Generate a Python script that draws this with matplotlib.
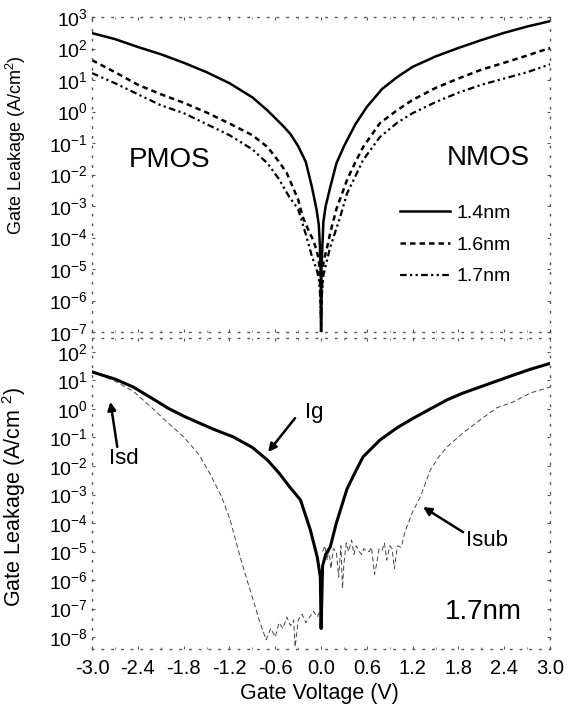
import numpy as np
import matplotlib
matplotlib.use("Agg")
import matplotlib.pyplot as plt
from matplotlib.ticker import FixedLocator, FuncFormatter, LogLocator, NullFormatter

plt.rcParams['font.family'] = ['Liberation Sans', 'DejaVu Sans']
plt.rcParams['mathtext.default'] = 'regular'

# ---------------- data (log10 of A/cm^2) ----------------
v14 = [-3.0, -2.7, -2.4, -2.1, -1.8, -1.5, -1.2, -0.9, -0.7, -0.5, -0.4, -0.3, -0.2, -0.12, -0.06,
       -0.03, -0.015, -0.005, 0.0, 0.005, 0.015, 0.03, 0.06, 0.12, 0.2, 0.3, 0.45, 0.6, 0.8, 1.0,
       1.2, 1.5, 1.8, 2.1, 2.4, 2.7, 3.0]
l14 = [2.49, 2.3, 2.05, 1.82, 1.55, 1.25, 0.9, 0.45, 0.03, -0.45, -0.72, -1.1, -1.6, -2.4, -3.1,
       -3.6, -4.3, -5.2, -7.0, -5.0, -4.4, -3.5, -3.0, -2.4, -1.65, -1.1, -0.4, 0.15, 0.72, 1.1,
       1.42, 1.75, 2.02, 2.27, 2.5, 2.7, 2.87]

v16 = [-3.0, -2.7, -2.4, -2.1, -1.8, -1.5, -1.2, -0.9, -0.7, -0.55, -0.45, -0.37, -0.3, -0.24,
       -0.16, -0.1, -0.06, -0.03, -0.015, 0.0, 0.015, 0.03, 0.06, 0.08, 0.12, 0.2, 0.34, 0.45,
       0.55, 0.77, 1.0, 1.2, 1.5, 1.8, 2.1, 2.4, 2.7, 3.0]
l16 = [1.63, 1.25, 0.85, 0.55, 0.28, -0.03, -0.38, -0.75, -1.13, -1.6, -1.95, -2.4, -2.8, -3.35,
       -3.8, -4.1, -4.4, -4.7, -5.3, -6.5, -5.4, -4.8, -4.5, -4.3, -3.85, -3.1, -2.17, -1.6,
       -1.13, -0.37, 0.05, 0.37, 0.75, 1.05, 1.33, 1.55, 1.78, 2.02]

v17 = [-3.0, -2.7, -2.4, -2.1, -1.8, -1.5, -1.2, -0.9, -0.7, -0.55, -0.42, -0.3, -0.2, -0.12,
       -0.06, -0.03, -0.01, 0.0, 0.01, 0.03, 0.06, 0.12, 0.25, 0.34, 0.45, 0.55, 0.77, 1.0, 1.2,
       1.5, 1.8, 2.1, 2.4, 2.7, 3.0]
l17 = [1.22, 0.9, 0.55, 0.2, -0.05, -0.4, -0.75, -1.2, -1.65, -2.15, -2.7, -3.1, -3.9, -4.6,
       -5.0, -5.3, -5.9, -6.8, -5.8, -5.2, -4.9, -4.3, -3.35, -2.6, -2.05, -1.54, -0.81, -0.35,
       -0.05, 0.3, 0.6, 0.85, 1.05, 1.25, 1.5]

v_ig = [-3.0, -2.7, -2.46, -2.2, -2.0, -1.8, -1.59, -1.4, -1.15, -0.9, -0.7, -0.55, -0.41, -0.27,
        -0.14, -0.05, -0.01, 0.0, 0.02, 0.06, 0.12, 0.2, 0.34, 0.45, 0.55, 0.77, 1.0, 1.21, 1.45,
        1.65, 1.85, 2.08, 2.3, 2.52, 2.75, 3.0]
l_ig = [1.3, 1.05, 0.77, 0.35, 0.02, -0.25, -0.5, -0.72, -0.98, -1.35, -1.8, -2.25, -2.74, -3.19,
        -4.25, -5.2, -5.9, -7.7, -5.5, -5.1, -4.84, -4.0, -2.8, -2.2, -1.68, -1.09, -0.65, -0.32,
        0.03, 0.32, 0.55, 0.77, 0.98, 1.19, 1.4, 1.6]

v_isd = [-3.0, -2.7, -2.46, -2.24, -2.02, -1.8, -1.6, -1.45, -1.3, -1.19, -1.06, -0.93, -0.8,
         -0.72, -0.66, -0.6, -0.55, -0.5, -0.45, -0.4, -0.36, -0.34, -0.3, -0.25, -0.2, -0.15,
         -0.1, -0.05, -0.02]
l_isd = [1.3, 0.98, 0.62, 0.1, -0.45, -0.98, -1.6, -2.3, -3.1, -3.9, -5.2, -6.35, -7.5,
         -8.1, -7.7, -8.0, -7.5, -7.7, -7.3, -7.6, -7.4, -8.35, -7.4, -7.2, -7.5, -7.3,
         -7.1, -7.3, -7.1]

v_isub = [0.02, 0.05, 0.08, 0.1, 0.13, 0.16, 0.2, 0.23, 0.26, 0.28, 0.3, 0.33, 0.36, 0.4, 0.43,
          0.46, 0.5, 0.53, 0.56, 0.6, 0.63, 0.66, 0.7, 0.73, 0.76, 0.8, 0.83, 0.86, 0.9, 0.93,
          0.96, 1.0, 1.05, 1.1, 1.2, 1.3, 1.43, 1.55, 1.65, 1.86, 2.08, 2.3, 2.52, 2.74, 3.0]
l_isub = [-5.0, -4.8, -5.3, -4.9, -5.6, -4.9, -5.0, -5.9, -4.8, -6.3, -5.4, -4.7, -5.0, -4.6, -5.1,
          -4.8, -5.0, -5.1, -4.9, -5.0, -5.0, -4.85, -5.8, -5.4, -4.9, -4.95, -4.7, -5.3, -4.8, -4.9,
          -5.6, -4.8, -4.85, -4.3, -3.6, -3.09, -2.14, -1.65, -1.33, -0.84, -0.39, 0.04, 0.25,
          0.56, 0.77]

xticks = [-3.0, -2.4, -1.8, -1.2, -0.6, 0.0, 0.6, 1.2, 1.8, 2.4, 3.0]
xticklabels = ['-3.0', '-2.4', '-1.8', '-1.2', '-0.6', '0.0', '0.6', '1.2', '1.8', '2.4', '3.0']
top_decades = list(range(-7, 4))
bot_decades = list(range(-8, 3))

# ---------------- figure ----------------
fig = plt.figure(figsize=(5.72, 7.11), dpi=100)
ax1 = fig.add_axes([0.161, 0.533, 0.8007, 0.443])
ax2 = fig.add_axes([0.161, 0.0872, 0.8007, 0.4374])

def p10(a):
    return 10.0 ** np.asarray(a, dtype=float)

def style(ax, decades, ylim):
    ax.set_yscale('log')
    ax.set_xlim(-3.0, 3.0)
    ax.set_ylim(*ylim)
    for s in ax.spines.values():
        s.set_linestyle((0, (1, 6)))
        s.set_color('#555555')
        s.set_linewidth(1.0)
    ax.yaxis.set_major_locator(FixedLocator([10.0 ** d for d in decades]))
    ax.yaxis.set_major_formatter(FuncFormatter(lambda y, pos: '10$^{%d}$' % int(round(np.log10(y)))))
    ax.yaxis.set_minor_locator(LogLocator(base=10, subs=np.arange(2, 10)))
    ax.yaxis.set_minor_formatter(NullFormatter())
    ax.set_xticks(xticks)
    ax.set_xticks(np.arange(-2.7, 3.0, 0.6), minor=True)
    ax.tick_params(which='major', direction='in', length=2.5, width=0.8, color='#555555',
                   top=True, right=True, labelsize=14, pad=3)
    ax.tick_params(which='minor', direction='in', length=1.5, width=0.6, color='#777777',
                   top=True, right=True)

style(ax1, top_decades, (1e-7, 1e3))
style(ax2, bot_decades, (10 ** -8.42, 10 ** 2.49))

# top panel curves
ax1.plot(v14, p10(l14), color='black', lw=1.8, label='1.4nm')
ax1.plot(v16, p10(l16), color='black', lw=1.8, linestyle=(0, (2.2, 1.6)), label='1.6nm')
ax1.plot(v17, p10(l17), color='black', lw=1.6, linestyle=(0, (3, 1.5, 1, 1.5, 1, 1.5)), label='1.7nm')
ax1.set_xticklabels([])
ax1.set_ylabel('Gate Leakage (A/cm$^2$)', fontsize=13)
ax1.yaxis.set_label_coords(-0.14, 0.594)
ax1.text(-1.98, 10 ** -1.54, 'PMOS', fontsize=20, ha='center', va='center')
ax1.text(2.19, 10 ** -1.48, 'NMOS', fontsize=20, ha='center', va='center')
ax1.legend(loc='upper left', bbox_to_anchor=(0.672, 0.405), frameon=False, fontsize=14,
           handlelength=2.6, handletextpad=0.3, labelspacing=0.72, borderpad=0, borderaxespad=0)

# bottom panel curves
ax2.plot(v_isd, p10(l_isd), color='#444444', lw=0.7, linestyle=(0, (5, 3)))
ax2.plot(v_isub, p10(l_isub), color='#444444', lw=0.7, linestyle=(0, (5, 3)))
ax2.plot(v_ig, p10(l_ig), color='black', lw=2.2)
ax2.set_xticklabels(xticklabels)
ax2.tick_params(axis='x', labelsize=14.5, pad=7)
ax2.set_ylabel('Gate Leakage (A/cm $^2$)', fontsize=15.5)
ax2.yaxis.set_label_coords(-0.14, 0.489)
ax2.set_xlabel('Gate Voltage (V)', fontsize=15.5)
ax2.xaxis.set_label_coords(0.496, -0.108)

arrow = dict(arrowstyle='-|>', color='black', lw=1.8, mutation_scale=12, shrinkA=0, shrinkB=0)
ax2.annotate('', xy=(-2.76, 10 ** 0.25), xytext=(-2.67, 10 ** -1.33), arrowprops=arrow)
ax2.text(-2.59, 10 ** -1.72, 'Isd', fontsize=16, ha='center', va='center')
ax2.annotate('', xy=(-0.694, 10 ** -1.51), xytext=(-0.341, 10 ** -0.32), arrowprops=arrow)
ax2.text(-0.09, 10 ** -0.14, 'Ig', fontsize=16, ha='center', va='center')
ax2.annotate('', xy=(1.336, 10 ** -3.44), xytext=(1.86, 10 ** -4.32), arrowprops=arrow)
ax2.text(2.17, 10 ** -4.62, 'Isub', fontsize=16, ha='center', va='center')
ax2.text(2.12, 10 ** -7.12, '1.7nm', fontsize=20, ha='center', va='center')

fig.savefig('out.png', dpi=100)
